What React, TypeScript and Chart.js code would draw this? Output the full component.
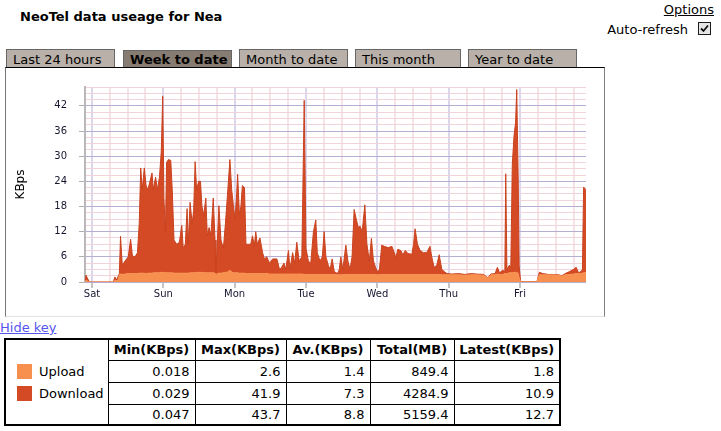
import React, { useEffect, useRef } from 'react';
import { Chart, registerables } from 'chart.js';

Chart.register(...registerables);

const FONT = "'DejaVu Sans', Verdana, sans-serif";

const dayLabels = ['Sat', 'Sun', 'Mon', 'Tue', 'Wed', 'Thu', 'Fri'];
const dayTickHours = [0, 24, 48, 72, 96, 120, 144];
const xGridHours = [0, 6, 12, 18, 24, 30, 36, 42, 48, 54, 60, 66, 72, 78, 84, 90, 96, 102, 108, 114, 120, 126, 132, 138, 144, 150, 156, 162];
const yLabelTicks = [0, 6, 12, 18, 24, 30, 36, 42];
const yGridTicks = [0, 1.5, 3, 4.5, 6, 7.5, 9, 10.5, 12, 13.5, 15, 16.5, 18, 19.5, 21, 22.5, 24, 25.5, 27, 28.5, 30, 31.5, 33, 34.5, 36, 37.5, 39, 40.5, 42, 43.5, 45, 46.5];

// hours since Saturday 00:00
const hours = [
  -2.35, -2.0, -1.6, -0.9, 7.2, 7.7, 8.3, 8.9, 9.2, 9.6,
  10.2, 11.1, 12.2, 13.0, 13.6, 14.5, 15.3, 15.9, 16.4, 16.9,
  17.6, 18.2, 18.8, 19.5, 20.2, 20.6, 21.4, 22.0, 22.7, 23.3,
  23.8, 24.2, 24.7, 25.1, 25.7, 26.5, 27.0, 27.6, 28.5, 29.4,
  30.2, 30.7, 31.4, 32.0, 32.4, 33.0, 33.7, 34.2, 34.7, 35.2,
  35.9, 36.5, 37.0, 37.6, 38.3, 38.8, 39.4, 40.0, 40.8, 41.4,
  41.7, 42.2, 42.7, 43.4, 44.2, 44.9, 45.7, 46.4, 47.0, 47.6,
  48.1, 48.6, 49.0, 49.6, 50.1, 50.6, 51.3, 51.8, 52.6, 53.4,
  54.0, 54.6, 55.1, 55.6, 56.5, 57.4, 58.0, 58.8, 59.7, 60.8,
  62.2, 63.1, 63.8, 64.6, 65.2, 66.1, 66.6, 67.5, 68.2, 68.9,
  69.7, 70.6, 71.4, 72.0, 72.8, 73.6, 74.5, 75.3, 75.8, 76.7,
  77.5, 78.1, 78.7, 79.5, 80.1, 80.8, 81.5, 82.6, 83.2, 83.7,
  84.4, 85.4, 86.1, 86.8, 87.5, 88.2, 88.9, 89.6, 90.2, 90.9,
  91.8, 92.5, 93.3, 94.0, 94.7, 95.4, 96.0, 96.7, 97.5, 98.3,
  99.7, 100.9, 101.7, 102.2, 102.9, 103.9, 104.6, 105.4, 106.3, 107.6,
  108.2, 108.7, 109.5, 110.4, 111.5, 112.6, 113.7, 114.3, 115.1, 116.0,
  116.8, 117.7, 118.5, 119.4, 121.1, 123.3, 125.6, 127.3, 129.5, 131.7,
  133.2, 134.2, 135.6, 136.4, 137.1, 138.2, 138.9, 139.2, 139.6, 140.4,
  140.9, 141.4, 142.0, 142.5, 142.9, 143.4, 143.7, 144.2, 149.7, 150.5,
  151.7, 153.6, 155.3, 157.0, 158.1, 159.2, 160.7, 162.0, 162.9, 163.7,
  164.5, 165.0, 165.4, 166.2,
];

const upload = [
  0.1, 0.4, 0.3, 0, 0, 0.4, 0.3, 0.6, 1.8, 1.9,
  1.8, 1.9, 2.0, 2.0, 2.0, 2.0, 2.0, 2.1, 2.1, 2.1,
  2.1, 2.0, 2.1, 2.1, 2.1, 2.2, 2.2, 2.2, 2.2, 2.3,
  2.3, 2.3, 2.2, 2.2, 2.2, 2.2, 2.2, 2.1, 2.1, 2.1,
  2.1, 2.1, 2.1, 2.1, 2.1, 2.2, 2.2, 2.2, 2.2, 2.3,
  2.3, 2.3, 2.3, 2.2, 2.2, 2.2, 2.2, 2.2, 2.2, 2.1,
  0.8, 2.0, 2.1, 2.1, 2.2, 2.3, 2.4, 2.8, 2.4, 2.2,
  2.2, 2.2, 2.2, 2.1, 2.1, 2.1, 2.1, 2.0, 2.0, 2.0,
  2.0, 2.0, 2.0, 2.0, 2.0, 2.0, 2.0, 2.0, 1.9, 1.9,
  1.9, 1.9, 1.9, 1.9, 1.9, 1.9, 1.9, 1.9, 1.9, 1.9,
  1.9, 1.9, 1.8, 1.8, 1.8, 1.8, 1.8, 1.8, 1.8, 1.8,
  1.8, 1.8, 1.8, 1.8, 1.8, 1.8, 1.8, 1.7, 1.7, 1.7,
  1.7, 1.8, 1.8, 1.8, 1.8, 1.8, 1.8, 1.8, 1.8, 1.8,
  1.8, 1.8, 1.8, 1.8, 1.8, 1.8, 1.7, 1.7, 1.8, 1.8,
  1.8, 1.8, 1.8, 1.8, 1.8, 1.8, 1.8, 1.8, 1.8, 1.8,
  1.8, 1.8, 1.8, 1.8, 1.8, 1.8, 1.8, 1.8, 1.8, 1.8,
  1.8, 1.7, 1.7, 1.7, 1.7, 1.7, 1.6, 1.7, 1.7, 1.6,
  0.9, 1.7, 1.7, 1.9, 1.8, 1.8, 2.0, 2.0, 2.0, 2.2,
  2.2, 2.2, 2.3, 2.3, 2.3, 2.0, 1.0, 0.05, 0.05, 1.7,
  1.7, 1.7, 1.7, 1.6, 1.4, 1.7, 1.8, 1.9, 2.0, 2.0,
  2.0, 2.1, 2.2, 2.2,
];

const download = [
  0.2, 1.2, 0.7, 0, 0, 0.8, 0.2, 0.9, 0.2, 9.0,
  2.2, 3.1, 4.0, 8.2, 4.2, 4.0, 5.0, 11.9, 25.1, 19.9,
  25.1, 21.0, 19.9, 21.9, 23.9, 19.8, 22.8, 19.8, 22.8, 28.7,
  42.0, 17.7, 9.8, 26.3, 27.0, 26.8, 19.8, 7.9, 6.9, 7.4,
  11.4, 5.9, 6.9, 15.4, 6.9, 16.8, 11.8, 14.8, 26.5, 19.7,
  21.7, 21.7, 15.7, 13.8, 17.8, 8.8, 10.8, 8.8, 17.8, 7.9,
  0.7, 8.0, 16.1, 7.9, 5.8, 11.7, 19.6, 26.4, 19.6, 15.8,
  12.8, 17.8, 23.5, 13.9, 15.9, 20.9, 20.4, 7.0, 7.0, 7.0,
  9.0, 6.5, 10.0, 7.0, 8.5, 5.0, 3.5, 4.0, 2.6, 3.6,
  3.6, 1.1, 1.6, 2.6, 1.1, 5.6, 1.1, 5.1, 2.6, 7.6,
  3.1, 4.1, 41.5, 6.2, 3.2, 2.7, 10.2, 13.0, 5.2, 3.2,
  4.2, 10.2, 4.2, 2.2, 1.2, 3.7, 0.7, 0.3, 1.3, 4.3,
  1.3, 7.0, 3.2, 1.2, 4.2, 15.5, 13.2, 11.2, 11.5, 10.2,
  16.6, 7.2, 3.2, 8.6, 3.2, 1.7, 0.8, 1.3, 7.0, 6.7,
  6.4, 6.7, 5.2, 4.0, 6.0, 5.7, 4.7, 5.7, 5.0, 4.8,
  7.2, 10.9, 7.2, 5.7, 5.2, 5.2, 6.7, 4.2, 1.7, 2.2,
  4.7, 1.3, 0.8, 0.3, 0.2, 0.3, 0.2, 0.3, 0.2, 0.2,
  0.1, 0.2, 0.3, 1.6, 0.4, 1.0, 0.5, 23.8, 1.0, 1.8,
  1.3, 25.8, 32.7, 35.7, 43.6, 22.0, 3.0, 0.05, 0.05, 0.6,
  0.3, 0.1, 0.1, 0.1, 0.1, 0.3, 0.7, 1.1, 1.5, 0.2,
  0.5, 0.9, 20.4, 19.8,
];

const tabs = ['Last 24 hours', 'Week to date', 'Month to date', 'This month', 'Year to date'];
const selectedTab = 'Week to date';
const seriesNames = ['Upload', 'Download'];
const seriesColors = ['#f7904f', '#d44a24'];
const statHeaders = ['Min(KBps)', 'Max(KBps)', 'Av.(KBps)', 'Total(MB)', 'Latest(KBps)'];
const uploadStats = ['0.018', '2.6', '1.4', '849.4', '1.8'];
const downloadStats = ['0.029', '41.9', '7.3', '4284.9', '10.9'];
const totalStats = ['0.047', '43.7', '8.8', '5159.4', '12.7'];

const tabLefts = [6, 123, 239, 355, 468];
const tabWidths = [109, 109, 109, 106, 109];
const colWidths = [103, 87, 91, 84, 84, 106];

function UsageChart() {
  const ref = useRef<HTMLCanvasElement>(null);
  useEffect(() => {
    if (!ref.current) return;
    const chart = new Chart(ref.current, {
      type: 'line',
      data: {
        datasets: [
          {
            label: seriesNames[0],
            data: hours.map((h, i) => ({ x: h, y: upload[i] })),
            fill: 'origin',
            backgroundColor: seriesColors[0],
            borderColor: seriesColors[0],
            borderWidth: 1,
            pointRadius: 0,
            tension: 0,
          },
          {
            label: seriesNames[1],
            data: hours.map((h, i) => ({ x: h, y: download[i] })),
            fill: '-1',
            backgroundColor: seriesColors[1],
            borderColor: '#c9421f',
            borderWidth: 1,
            pointRadius: 0,
            tension: 0,
          },
        ],
      },
      options: {
        responsive: false,
        animation: false,
        devicePixelRatio: 1,
        layout: { padding: { top: 19, right: 18, left: 0, bottom: 0 } },
        plugins: { legend: { display: false }, tooltip: { enabled: false } },
        font: { family: FONT },
        scales: {
          x: {
            type: 'linear',
            min: -2.35,
            max: 166.2,
            afterBuildTicks: (s: any) => {
              s.ticks = xGridHours.map((v) => ({ value: v }));
            },
            afterFit: (s: any) => {
              s.height = 34;
            },
            grid: {
              color: (c: any) => (c.tick && c.tick.value % 24 === 0 ? '#dbd6ec' : '#f5e3e7'),
              lineWidth: 2,
              tickColor: (c: any) => (c.tick && c.tick.value % 24 === 0 ? '#c4c4c4' : 'rgba(0,0,0,0)'),
              tickLength: 6,
              tickWidth: 2,
            },
            border: { display: false },
            ticks: {
              autoSkip: false,
              maxRotation: 0,
              minRotation: 0,
              padding: 0,
              color: '#161630',
              font: { family: FONT, size: 10 },
              callback: (v: any) => {
                const i = dayTickHours.indexOf(Number(v));
                return i >= 0 ? dayLabels[i] : '';
              },
            },
          },
          y: {
            stacked: true,
            min: 0,
            max: 46.5,
            afterBuildTicks: (s: any) => {
              s.ticks = yGridTicks.map((v) => ({ value: v }));
            },
            afterFit: (s: any) => {
              s.width = 79;
            },
            grid: {
              color: (c: any) => (c.tick && c.tick.value % 6 === 0 ? '#b4aed3' : '#f0d4da'),
              lineWidth: 1,
              tickColor: (c: any) => (c.tick && c.tick.value % 6 === 0 ? '#b0b0b0' : 'rgba(0,0,0,0)'),
              tickLength: 6,
            },
            border: { display: true, color: '#b8b8b8', width: 2 },
            ticks: {
              autoSkip: false,
              padding: 12,
              color: '#161630',
              font: { family: FONT, size: 10 },
              callback: (v: any) => (yLabelTicks.includes(Number(v)) ? String(v) : ''),
            },
            title: {
              display: true,
              text: 'KBps',
              color: '#000',
              font: { family: FONT, size: 12 },
              padding: { top: 8, bottom: 0 },
            },
          },
        },
      } as any,
    });
    return () => chart.destroy();
  }, []);
  return <canvas ref={ref} width={598} height={248} style={{ display: 'block', width: 598, height: 248 }} />;
}

export default function App() {
  const statRows = [uploadStats, downloadStats, totalStats];
  const cellBorder = '1px solid #000';
  return (
    <div
      style={{
        position: 'absolute',
        left: 0,
        top: 0,
        width: 721,
        height: 431,
        background: '#fff',
        fontFamily: FONT,
        fontSize: 13,
        color: '#000',
        overflow: 'hidden',
      }}
    >
      <div style={{ position: 'absolute', left: 20, top: 9, fontWeight: 'bold', fontSize: 13, lineHeight: '16px' }}>
        NeoTel data useage for Nea
      </div>
      <div style={{ position: 'absolute', right: 7, top: 2, fontSize: 13, lineHeight: '16px', textDecoration: 'underline' }}>
        Options
      </div>
      <div style={{ position: 'absolute', right: 33, top: 22, fontSize: 13, lineHeight: '16px' }}>Auto-refresh</div>
      <div
        role="checkbox"
        aria-checked="true"
        style={{
          position: 'absolute',
          left: 698,
          top: 22,
          width: 13,
          height: 13,
          boxSizing: 'border-box',
          border: '1px solid #1c1c1c',
          background: '#e6e6e6',
        }}
      >
        <svg width="11" height="11" viewBox="0 0 11 11" style={{ display: 'block' }}>
          <path d="M2 5.5 L4.5 8 L9 2.5" stroke="#111" strokeWidth="1.8" fill="none" />
        </svg>
      </div>

      {tabs.map((t, i) => {
        const sel = t === selectedTab;
        return (
          <div
            key={t}
            style={{
              position: 'absolute',
              left: tabLefts[i],
              top: sel ? 50 : 49,
              width: tabWidths[i],
              height: sel ? 17 : 18,
              boxSizing: 'border-box',
              border: '1px solid #666',
              borderBottom: 'none',
              background: sel ? '#877c72' : '#b9b1a9',
              fontWeight: sel ? 'bold' : 'normal',
              fontSize: 13,
              lineHeight: sel ? '18px' : '19px',
              paddingLeft: 6,
              whiteSpace: 'nowrap',
              overflow: 'hidden',
            }}
          >
            {t}
          </div>
        );
      })}

      <div
        style={{
          position: 'absolute',
          left: 5,
          top: 67,
          width: 600,
          height: 250,
          boxSizing: 'border-box',
          borderTop: '1px solid #000',
          borderLeft: '1px solid #777',
          borderRight: '1px solid #808080',
          borderBottom: '1px solid #e2e2e2',
        }}
      >
        <UsageChart />
      </div>

      <div
        style={{
          position: 'absolute',
          left: 0,
          top: 320,
          fontSize: 13,
          lineHeight: '16px',
          color: '#5656ee',
          textDecoration: 'underline',
        }}
      >
        Hide key
      </div>

      <table
        style={{
          position: 'absolute',
          left: 4,
          top: 338,
          borderCollapse: 'collapse',
          tableLayout: 'fixed',
          width: 555,
          border: '2px solid #000',
          fontFamily: FONT,
          fontSize: 13,
        }}
      >
        <colgroup>
          {colWidths.map((w, i) => (
            <col key={i} style={{ width: w }} />
          ))}
        </colgroup>
        <tbody>
          <tr style={{ height: 21 }}>
            <td rowSpan={4} style={{ border: cellBorder, borderRight: cellBorder, padding: '0 0 0 11px', verticalAlign: 'middle' }}>
              {seriesNames.map((n, i) => (
                <div key={n} style={{ display: 'flex', alignItems: 'center', height: 22 }}>
                  <span style={{ display: 'inline-block', width: 15, height: 15, background: seriesColors[i], marginRight: 7 }} />
                  <span>{n}</span>
                </div>
              ))}
            </td>
            {statHeaders.map((h) => (
              <th key={h} style={{ border: cellBorder, fontWeight: 'bold', textAlign: 'center', padding: '0 2px', whiteSpace: 'nowrap' }}>
                {h}
              </th>
            ))}
          </tr>
          {statRows.map((r, ri) => (
            <tr key={ri} style={{ height: ri === 2 ? 21 : 22 }}>
              {r.map((v, ci) => (
                <td key={ci} style={{ border: cellBorder, textAlign: 'right', padding: '0 5px' }}>
                  {v}
                </td>
              ))}
            </tr>
          ))}
        </tbody>
      </table>
    </div>
  );
}
